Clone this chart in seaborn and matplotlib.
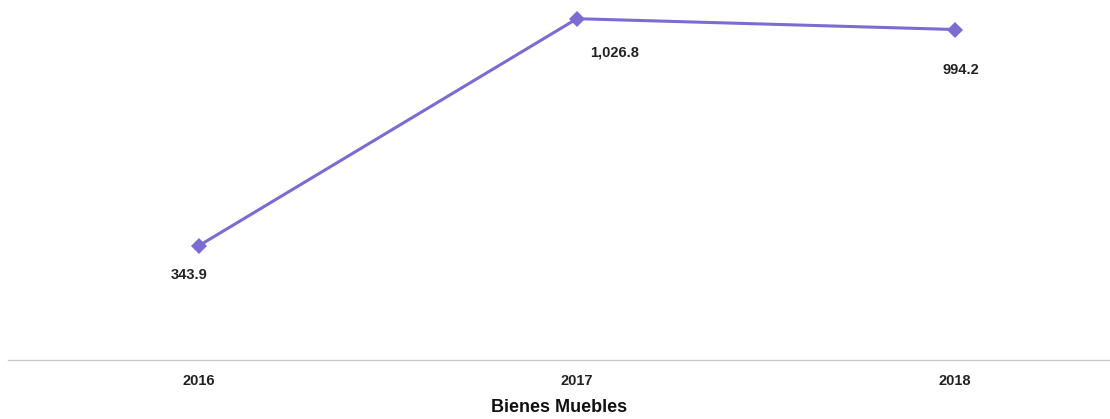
import matplotlib
matplotlib.use("Agg")
import matplotlib.pyplot as plt
import seaborn as sns
import pandas as pd

years = ["2016", "2017", "2018"]
values = [343.9, 1026.8, 994.2]
value_labels = ["343.9", "1,026.8", "994.2"]

sns.set_theme(style="white")
plt.rcParams["font.family"] = ["Liberation Sans", "DejaVu Sans"]

df = pd.DataFrame({"year": years, "value": values})

fig = plt.figure(figsize=(11.1, 4.19), dpi=100)
ax = fig.add_axes([8 / 1110, 59 / 419, 1102 / 1110, 360 / 419])

line_color = "#7a6cd2"
sns.lineplot(data=df, x="year", y="value", ax=ax, color=line_color, linewidth=2.2,
             marker="D", markersize=8, markeredgewidth=0, sort=False)

# label offsets (points)
offsets = [(-7, -21), (27, -24), (4, -29)]
for i, (v, lab) in enumerate(zip(values, value_labels)):
    ax.annotate(lab, (i, v), xytext=offsets[i], textcoords="offset points",
                ha="center", va="center", fontsize=10.5, fontweight="bold", color="#222222")

ax.set_xlim(-0.505, 2.41)
ax.set_ylim(0, 1083)
ax.set_yticks([])
ax.set_ylabel("")
for s in ["top", "right", "left"]:
    ax.spines[s].set_visible(False)
ax.spines["bottom"].set_color("#c8c8c8")
ax.spines["bottom"].set_linewidth(1)
ax.tick_params(axis="x", length=0, pad=10, labelsize=10.5)
for t in ax.get_xticklabels():
    t.set_fontweight("bold")
    t.set_color("#222222")
ax.set_xlabel("Bienes Muebles", fontsize=13, fontweight="bold", color="#111111", labelpad=8)

fig.savefig("out.png", dpi=100)
